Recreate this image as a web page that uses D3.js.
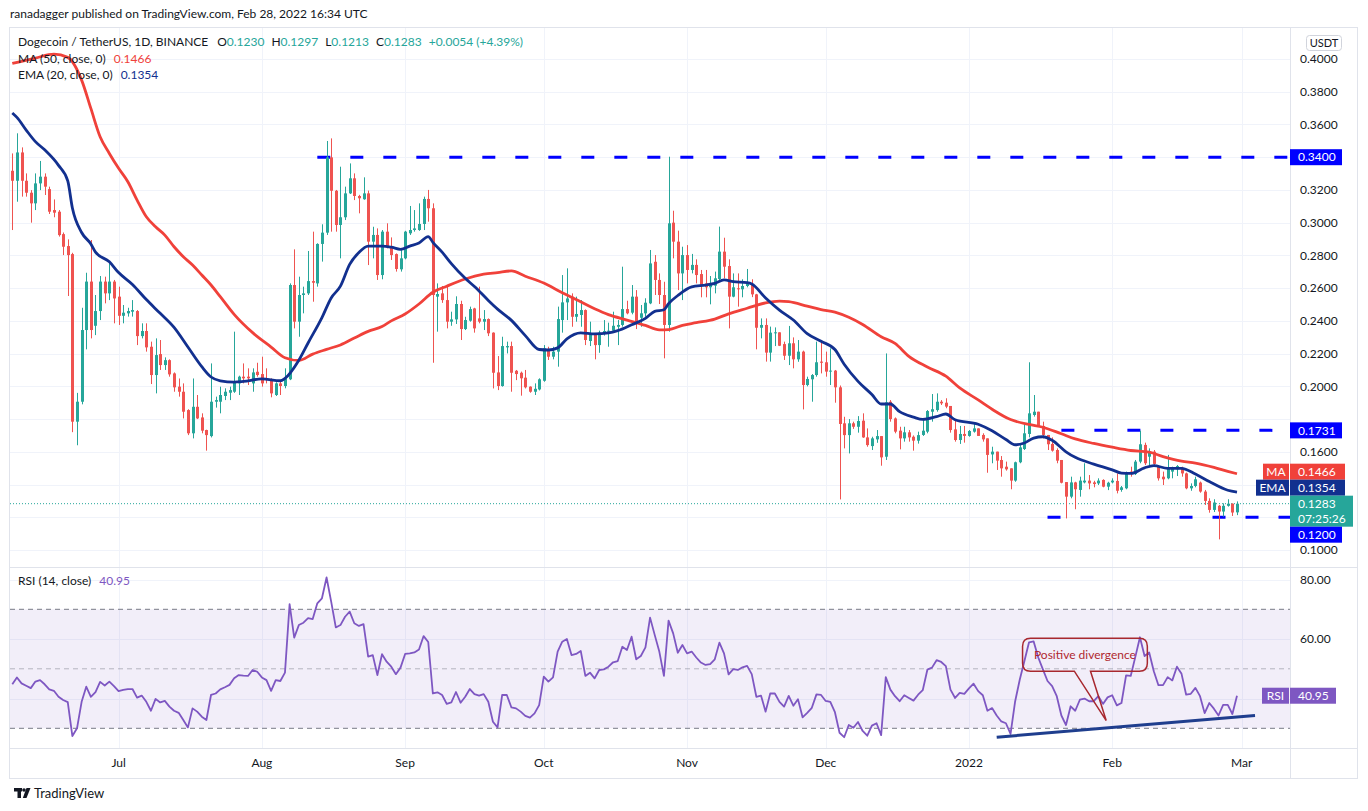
<!DOCTYPE html>
<html lang="en">
<head>
<meta charset="UTF-8" />
<title>DOGEUSDT 1D</title>
<style>
  body { margin: 0; background: #fff; font-family: Lato, "Noto Sans", sans-serif; }
  svg { display: block; }
  .tick-label { font-size: 12px; fill: #131722; }
  .tag-text { font-size: 12px; fill: #fff; }
  .legend { font-size: 12px; fill: #131722; }
</style>
</head>
<body>
<script src="https://cdn.jsdelivr.net/npm/d3@7/dist/d3.min.js"></script>
<script>
// daily candles, first one is 2021-06-08
const firstDay = "2021-06-08";

const open = [
  .3317,.3256,.3429,.3256,.3183,.3118,.3240,.3281,.3205,.3077,
  .3067,.2930,.2857,.2808,.1784,.1906,.2344,.2640,.2370,.2460,
  .2640,.2568,.2640,.2548,.2431,.2446,.2456,.2460,.2307,.2338,
  .2242,.2069,.2197,.2130,.2160,.2079,.1998,.1967,.1855,.1713,
  .1875,.1810,.1733,.1696,.1906,.1906,.1941,.1961,.1967,.2018,
  .2059,.2059,.2018,.2089,.2075,.2049,.2034,.1947,.2018,.2002,
  .2043,.2619,.2395,.2558,.2568,.2643,.2629,.2870,.2939,.3399,
  .3195,.2986,.3033,.3179,.3271,.3163,.3143,.3179,.2884,.2925,
  .2680,.2945,.2857,.2808,.2715,.2782,.2935,.2955,.2955,.2992,
  .3145,.3088,.2548,.2568,.2527,.2395,.2409,.2503,.2350,.2401,
  .2476,.2415,.2395,.2411,.2328,.2085,.2002,.2238,.2246,.2095,
  .2083,.2053,.1998,.1967,.1981,.2034,.2222,.2181,.2212,.2405,
  .2513,.2548,.2425,.2436,.2466,.2277,.2318,.2252,.2328,.2334,
  .2340,.2364,.2375,.2472,.2450,.2548,.2419,.2446,.2507,.2761,
  .2650,.2558,.2375,.3000,.2884,.2690,.2802,.2711,.2742,.2686,
  .2629,.2605,.2615,.2656,.2823,.2735,.2548,.2599,.2593,.2613,
  .2625,.2562,.2358,.2375,.2206,.2324,.2330,.2258,.2187,.2263,
  .2165,.2212,.2008,.2043,.2069,.2151,.2147,.2090,.2096,.1994,
  .1774,.1702,.1774,.1753,.1790,.1688,.1635,.1676,.1696,.1570,
  .1906,.1804,.1729,.1682,.1719,.1692,.1668,.1703,.1723,.1845,
  .1855,.1906,.1900,.1880,.1737,.1672,.1709,.1697,.1723,.1743,
  .1703,.1682,.1584,.1601,.1550,.1509,.1499,.1424,.1536,.1617,
  .1709,.1825,.1845,.1758,.1703,.1648,.1611,.1550,.1415,.1326,
  .1413,.1367,.1413,.1424,.1413,.1407,.1428,.1387,.1413,.1422,
  .1367,.1377,.1479,.1464,.1540,.1642,.1570,.1601,.1513,.1448,
  .1438,.1479,.1493,.1499,.1468,.1377,.1391,.1412,.1357,.1300,
  .1245,.1270,.1235,.1270,.1283,.1230
];
const high = [
  .3423,.3546,.3460,.3301,.3199,.3301,.3377,.3301,.3220,.3142,
  .3077,.2940,.2898,.2816,.1960,.2480,.2694,.2894,.2558,.2674,
  .2670,.2751,.2650,.2609,.2497,.2480,.2527,.2466,.2385,.2385,
  .2273,.2293,.2283,.2177,.2165,.2085,.2048,.2018,.1860,.2048,
  .1947,.1835,.1735,.2140,.1937,.1998,.1988,.1998,.2334,.2065,
  .2140,.2110,.2110,.2144,.2181,.2110,.2049,.2025,.2028,.2110,
  .2629,.2837,.2670,.2609,.2827,.2945,.2874,.2990,.3499,.3515,
  .3200,.3342,.3220,.3362,.3301,.3170,.3277,.3196,.2975,.2965,
  .2955,.2996,.2910,.2812,.2843,.2950,.3102,.3077,.3118,.3159,
  .3200,.3118,.2629,.2613,.2609,.2456,.2550,.2523,.2425,.2487,
  .2480,.2609,.2466,.2415,.2330,.2185,.2303,.2273,.2273,.2100,
  .2090,.2100,.2000,.2018,.2049,.2252,.2242,.2242,.2487,.2680,
  .2721,.2568,.2548,.2527,.2470,.2395,.2324,.2340,.2405,.2389,
  .2456,.2405,.2731,.2523,.2619,.2588,.2497,.2538,.2833,.2802,
  .2690,.2639,.3403,.3073,.2951,.2853,.2863,.2809,.2776,.2711,
  .2711,.2674,.2701,.2976,.2908,.2776,.2690,.2690,.2654,.2717,
  .2654,.2565,.2415,.2415,.2365,.2360,.2330,.2273,.2369,.2299,
  .2283,.2218,.2059,.2075,.2273,.2277,.2212,.2232,.2100,.2005,
  .1814,.1800,.1784,.1818,.1835,.1743,.1692,.1733,.1696,.2201,
  .1916,.1810,.1753,.1753,.1733,.1700,.1723,.1794,.1855,.1953,
  .1957,.1916,.1927,.1880,.1794,.1758,.1758,.1733,.1770,.1743,
  .1713,.1682,.1631,.1601,.1574,.1540,.1499,.1540,.1641,.1774,
  .2147,.1947,.1845,.1784,.1703,.1688,.1621,.1550,.1415,.1448,
  .1417,.1448,.1530,.1458,.1423,.1438,.1432,.1417,.1438,.1468,
  .1391,.1479,.1509,.1550,.1729,.1656,.1621,.1611,.1519,.1479,
  .1581,.1509,.1519,.1509,.1473,.1407,.1448,.1418,.1367,.1316,
  .1310,.1275,.1285,.1310,.1285,.1297
];
const low = [
  .2955,.3128,.3159,.3159,.3000,.3077,.3199,.3169,.3053,.3033,
  .2915,.2802,.2552,.1720,.1640,.1890,.2226,.2293,.2313,.2405,
  .2507,.2527,.2385,.2375,.2385,.2426,.2426,.2252,.2293,.2212,
  .2014,.1957,.2100,.2100,.2059,.1967,.1937,.1804,.1702,.1682,
  .1800,.1713,.1607,.1688,.1870,.1835,.1916,.1916,.1960,.1947,
  .2018,.2008,.1967,.2059,.1998,.2018,.1933,.1941,.1947,.1988,
  .2038,.2354,.2303,.2446,.2558,.2517,.2609,.2762,.2925,.2945,
  .2945,.2782,.3016,.3175,.3138,.3057,.3140,.2741,.2782,.2650,
  .2654,.2843,.2772,.2701,.2701,.2776,.2925,.2945,.2950,.2955,
  .3006,.2144,.2334,.2510,.2354,.2370,.2381,.2283,.2344,.2395,
  .2328,.2385,.2344,.2307,.1987,.1977,.1998,.2201,.1967,.2038,
  .1943,.1987,.1961,.1947,.1975,.2028,.2161,.2165,.2120,.2328,
  .2405,.2364,.2395,.2364,.2252,.2246,.2165,.2205,.2310,.2242,
  .2328,.2252,.2365,.2440,.2440,.2350,.2364,.2425,.2502,.2558,
  .2503,.2171,.2334,.2782,.2588,.2527,.2629,.2690,.2629,.2544,
  .2544,.2501,.2568,.2650,.2660,.2354,.2544,.2487,.2544,.2605,
  .2545,.2226,.2293,.2151,.2151,.2246,.2246,.2161,.2130,.2110,
  .2150,.1859,.2000,.1906,.2059,.2079,.2059,.2008,.1900,.1309,
  .1621,.1590,.1740,.1717,.1685,.1631,.1611,.1655,.1515,.1550,
  .1784,.1713,.1615,.1662,.1662,.1607,.1650,.1697,.1713,.1784,
  .1845,.1886,.1866,.1717,.1662,.1648,.1656,.1692,.1717,.1697,
  .1662,.1472,.1530,.1489,.1448,.1485,.1371,.1417,.1530,.1611,
  .1688,.1815,.1754,.1682,.1611,.1601,.1530,.1407,.1193,.1316,
  .1249,.1326,.1407,.1371,.1383,.1397,.1383,.1366,.1407,.1346,
  .1356,.1371,.1448,.1458,.1530,.1519,.1519,.1519,.1424,.1397,
  .1432,.1438,.1452,.1448,.1371,.1362,.1383,.1350,.1275,.1228,
  .1232,.1065,.1204,.1265,.1208,.1213
];
const close = [
  .3256,.3429,.3256,.3183,.3118,.3240,.3281,.3220,.3067,.3061,
  .2924,.2853,.2802,.1784,.1906,.2344,.2640,.2344,.2460,.2640,
  .2568,.2640,.2537,.2431,.2450,.2460,.2466,.2307,.2338,.2238,
  .2069,.2191,.2130,.2160,.2073,.1994,.1967,.1845,.1713,.1875,
  .1804,.1729,.1702,.1906,.1916,.1947,.1967,.1977,.2028,.2059,
  .2049,.2049,.2085,.2069,.2018,.2038,.1957,.2018,.2002,.2049,
  .2619,.2395,.2558,.2568,.2643,.2633,.2870,.2939,.3399,.3195,
  .2986,.3033,.3179,.3271,.3163,.3149,.3179,.2884,.2925,.2680,
  .2945,.2857,.2802,.2717,.2782,.2945,.2955,.2965,.2992,.3145,
  .3088,.2558,.2564,.2527,.2395,.2409,.2503,.2350,.2405,.2472,
  .2354,.2395,.2411,.2324,.2083,.2002,.2246,.2246,.2083,.2075,
  .2049,.1994,.1967,.1985,.2043,.2232,.2181,.2212,.2411,.2513,
  .2537,.2425,.2442,.2466,.2283,.2324,.2252,.2328,.2338,.2340,
  .2370,.2375,.2472,.2446,.2548,.2391,.2446,.2511,.2751,.2650,
  .2558,.2375,.2996,.2884,.2690,.2802,.2711,.2742,.2680,.2619,
  .2605,.2619,.2660,.2823,.2731,.2548,.2605,.2593,.2613,.2629,
  .2562,.2358,.2375,.2206,.2328,.2330,.2248,.2187,.2263,.2165,
  .2212,.2008,.2045,.2069,.2147,.2144,.2090,.2096,.1994,.1770,
  .1702,.1774,.1753,.1788,.1688,.1641,.1682,.1696,.1566,.1902,
  .1800,.1723,.1682,.1719,.1688,.1668,.1702,.1729,.1849,.1860,
  .1906,.1896,.1876,.1733,.1672,.1709,.1697,.1727,.1743,.1697,
  .1676,.1581,.1601,.1546,.1499,.1493,.1424,.1536,.1627,.1713,
  .1835,.1845,.1758,.1703,.1646,.1607,.1546,.1411,.1326,.1413,
  .1371,.1424,.1424,.1407,.1403,.1424,.1387,.1411,.1424,.1362,
  .1383,.1473,.1468,.1540,.1646,.1530,.1601,.1526,.1438,.1432,
  .1499,.1499,.1513,.1468,.1377,.1391,.1432,.1357,.1300,.1245,
  .1290,.1235,.1270,.1283,.1229,.1283
];

// MA(50) and EMA(20), as [day number, value]
const maDay = [0,5,9,12,15,17,19,21,23,25,27,29,31,33,35,37,39,41,43,45,48,52,56,59,62,65,68,71,74,77,80,82,85,88,91,94,98,102,105,108,111,115,119,122,126,129,133,137,140,142,145,148,152,155,159,163,166,168,172,175,178,181,184,188,191,194,198,202,205,209,212,216,220,223,227,230,234,238,242,246,249,253,256,260,263,265];
const maValue = [.3973,.4006,.4030,.4010,.3871,.3698,.3525,.3423,.3332,.3250,.3138,.3036,.2975,.2924,.2853,.2792,.2741,.2680,.2619,.2548,.2440,.2328,.2240,.2175,.2158,.2197,.2226,.2253,.2295,.2336,.2365,.2400,.2442,.2503,.2575,.2612,.2656,.2685,.2695,.2705,.2673,.2631,.2572,.2531,.2474,.2438,.2405,.2372,.2345,.2347,.2373,.2389,.2411,.2443,.2477,.2510,.2521,.2517,.2490,.2469,.2454,.2422,.2378,.2303,.2262,.2183,.2118,.2062,.1990,.1917,.1860,.1797,.1767,.1750,.1710,.1679,.1651,.1628,.1608,.1598,.1571,.1543,.1531,.1505,.1481,.1466];
const emaDay = [0,1,3,5,7,10,12,13,15,17,18,21,23,26,29,32,35,38,41,43,45,48,50,54,58,59,62,64,67,69,71,73,75,77,80,82,84,86,88,90,91,93,95,98,100,103,105,108,111,114,116,118,120,123,126,129,131,134,137,139,141,142,144,147,150,152,154,156,159,160,163,166,169,172,175,178,180,183,186,188,190,192,195,197,200,202,204,209,212,215,217,219,221,223,225,228,230,234,238,240,242,245,247,250,253,256,259,263,265];
const emaValue = [.3670,.3643,.3566,.3495,.3445,.3350,.3255,.3090,.2940,.2870,.2820,.2761,.2695,.2622,.2530,.2446,.2360,.2240,.2120,.2057,.2034,.2026,.2030,.2045,.2034,.2049,.2160,.2265,.2420,.2540,.2612,.2745,.2818,.2857,.2857,.2850,.2837,.2857,.2876,.2915,.2880,.2820,.2750,.2660,.2610,.2525,.2472,.2403,.2310,.2225,.2222,.2235,.2290,.2327,.2320,.2326,.2340,.2376,.2415,.2458,.2468,.2505,.2555,.2608,.2619,.2629,.2650,.2640,.2633,.2625,.2540,.2466,.2405,.2322,.2275,.2225,.2135,.2030,.1950,.1892,.1892,.1845,.1812,.1798,.1815,.1831,.1796,.1768,.1728,.1675,.1643,.1654,.1684,.1692,.1670,.1600,.1566,.1525,.1490,.1470,.1468,.1502,.1515,.1499,.1499,.1464,.1418,.1365,.1354];

// RSI(14), one value per candle
const rsi = [
  44.8,47.1,45.1,44.3,43.5,45.7,46.2,44.8,43.1,42.6,
  40.6,39.5,38.8,27.4,30.0,38.9,44.0,40.6,42.2,45.6,
  44.4,45.7,44.2,42.5,42.9,43.2,43.2,40.3,41.0,38.9,
  35.9,39.9,38.7,39.2,37.3,35.9,35.2,32.8,30.3,36.7,
  35.6,33.9,32.8,41.2,41.7,43.1,43.8,44.6,46.8,47.9,
  47.7,47.6,49.6,49.0,47.1,46.2,42.6,46.2,45.9,48.7,
  71.7,60.5,64.7,65.5,67.0,66.7,72.0,73.7,80.7,72.6,
  63.9,64.7,67.5,69.2,65.3,64.4,65.0,54.1,54.6,47.9,
  54.9,52.4,50.7,48.2,50.4,55.0,55.2,55.5,56.5,61.0,
  59.0,41.7,42.1,41.2,38.2,38.7,42.2,38.6,40.6,43.2,
  41.5,41.0,41.5,38.9,32.2,30.3,41.2,41.2,37.0,36.7,
  35.6,34.2,33.6,35.0,37.8,47.4,45.7,47.1,55.8,59.1,
  60.0,54.6,55.0,56.0,47.6,48.7,46.8,49.6,49.8,50.7,
  52.2,52.6,57.4,56.3,60.8,53.2,54.3,57.2,67.2,61.4,
  55.8,47.6,66.2,61.9,55.4,58.0,55.2,55.8,53.8,52.1,
  51.3,51.6,53.2,58.8,55.2,48.1,49.9,49.6,50.5,51.0,
  48.2,40.6,41.0,35.6,41.7,41.7,38.9,37.3,40.9,37.6,
  39.8,33.7,35.2,36.9,41.4,41.2,39.2,38.9,35.4,28.5,
  27.0,31.1,30.2,32.1,29.1,27.5,30.9,31.7,27.7,47.2,
  43.0,40.8,39.1,41.1,40.2,39.3,41.3,42.8,49.7,50.4,
  52.9,52.3,50.9,43.0,40.2,41.9,41.6,43.4,45.0,42.5,
  41.1,35.9,36.8,34.3,32.3,31.7,28.1,39.1,46.4,52.6,
  58.9,59.2,53.8,49.8,45.9,44.2,40.8,34.3,31.1,37.4,
  35.9,39.6,40.0,39.1,39.1,40.8,38.2,40.4,41.1,37.7,
  38.5,47.8,47.6,54.0,60.6,54.3,55.5,49.2,44.5,44.5,
  47.2,46.1,50.7,48.3,41.3,41.6,43.6,40.8,35.1,38.5,
  36.6,34.3,37.9,37.9,34.8,40.95
];

const priceTicks = [0.10,0.12,0.14,0.16,0.18,0.20,0.22,0.24,0.26,0.28,0.30,0.32,0.34,0.36,0.38,0.40];
const rsiTicks = [80, 60];
const monthTicks = ["2021-07-01","2021-08-01","2021-09-01","2021-10-01","2021-11-01","2021-12-01","2022-01-01","2022-02-01","2022-03-01"];
const monthLabels = ["Jul","Aug","Sep","Oct","Nov","Dec","2022","Feb","Mar"];

// drawn levels: price and the day they start
const levelPrice = [0.34, 0.1731, 0.12];
const levelStart = ["2021-08-13", "2022-01-21", "2022-01-18"];

const up = "#26a69a", down = "#ef5350";
const maColor = "#f0413a", emaColor = "#12308f", levelColor = "#0000ff";
const rsiColor = "#7e57c2", gridColor = "#f0f3fa", borderColor = "#e0e3eb";

const W = 1368, H = 811;
const left = 10, right = 1290, priceTop = 27, priceBottom = 567, rsiBottom = 748, axisBottom = 778;

const parse = d3.utcParse("%Y-%m-%d");
const day0 = parse(firstDay);
const days = close.map((c, i) => d3.utcDay.offset(day0, i));
const atDay = n => new Date(day0.getTime() + n * 864e5);

const x = d3.scaleUtc().domain([days[0], days[days.length - 1]]).range([12.3, 1237]);
const y = d3.scaleLinear().domain([0.1, 0.4]).range([550, 59]);
const yr = d3.scaleLinear().domain([30, 70]).range([728.3, 609.3]);
const fmt = d3.format(".4f");
const last = close.length - 1;

const svg = d3.select("body").append("svg").attr("width", W).attr("height", H);
const defs = svg.append("defs");
defs.append("clipPath").attr("id", "clipPrice").append("rect")
  .attr("x", left).attr("y", priceTop).attr("width", right - left).attr("height", priceBottom - priceTop);
defs.append("clipPath").attr("id", "clipRsi").append("rect")
  .attr("x", left).attr("y", priceBottom).attr("width", right - left).attr("height", rsiBottom - priceBottom);

// header
svg.append("text").attr("x", 10).attr("y", 18).attr("class", "legend").attr("fill", "#4a4a4a")
  .text("ranadagger published on TradingView.com, Feb 28, 2022 16:34 UTC");

// grid
const grid = svg.append("g").attr("stroke", gridColor).attr("stroke-width", 1);
grid.selectAll(".gv").data(monthTicks).join("line")
  .attr("x1", d => Math.round(x(parse(d))) + 0.5).attr("x2", d => Math.round(x(parse(d))) + 0.5)
  .attr("y1", priceTop).attr("y2", rsiBottom);
grid.selectAll(".gh").data(priceTicks).join("line")
  .attr("x1", left).attr("x2", right)
  .attr("y1", d => Math.round(y(d)) + 0.5).attr("y2", d => Math.round(y(d)) + 0.5);
grid.selectAll(".gr").data([80, 60, 40]).join("line")
  .attr("x1", left).attr("x2", right)
  .attr("y1", d => Math.round(yr(d)) + 0.5).attr("y2", d => Math.round(yr(d)) + 0.5);

// frame
const frame = svg.append("g").attr("stroke", borderColor).attr("fill", "none");
frame.append("rect").attr("x", 9.5).attr("y", priceTop + 0.5).attr("width", 1348).attr("height", axisBottom - priceTop);
frame.append("line").attr("x1", right + 0.5).attr("x2", right + 0.5).attr("y1", priceTop).attr("y2", axisBottom);
frame.append("line").attr("x1", 9.5).attr("x2", 1357.5).attr("y1", priceBottom + 0.5).attr("y2", priceBottom + 0.5);
frame.append("line").attr("x1", 9.5).attr("x2", 1357.5).attr("y1", rsiBottom + 0.5).attr("y2", rsiBottom + 0.5);

// price pane
const pane = svg.append("g").attr("clip-path", "url(#clipPrice)");

pane.selectAll(".level").data(levelPrice).join("line")
  .attr("x1", (d, i) => x(parse(levelStart[i]))).attr("x2", right)
  .attr("y1", d => y(d)).attr("y2", d => y(d))
  .attr("stroke", levelColor).attr("stroke-width", 3).attr("stroke-dasharray", "13,20");

pane.append("line").attr("x1", left).attr("x2", right)
  .attr("y1", y(close[last])).attr("y2", y(close[last]))
  .attr("stroke", up).attr("stroke-width", 1).attr("stroke-dasharray", "1,2");

const candle = pane.append("g").selectAll("g").data(days).join("g")
  .attr("fill", (d, i) => close[i] >= open[i] ? up : down)
  .attr("stroke", (d, i) => close[i] >= open[i] ? up : down);
candle.append("line")
  .attr("x1", d => Math.round(x(d)) + 0.5).attr("x2", d => Math.round(x(d)) + 0.5)
  .attr("y1", (d, i) => y(Math.max(high[i], open[i], close[i])))
  .attr("y2", (d, i) => y(Math.min(low[i], open[i], close[i])))
  .attr("stroke-width", 1);
candle.append("rect")
  .attr("stroke", "none")
  .attr("x", d => Math.round(x(d)) - 1).attr("width", 3)
  .attr("y", (d, i) => y(Math.max(open[i], close[i])))
  .attr("height", (d, i) => Math.max(1, Math.abs(y(open[i]) - y(close[i]))));

const avgLine = d3.line().x(d => x(atDay(d[0]))).y(d => y(d[1])).curve(d3.curveMonotoneX);
pane.append("path").attr("d", avgLine(maDay.map((d, i) => [d, maValue[i]])))
  .attr("fill", "none").attr("stroke", maColor).attr("stroke-width", 2.8);
pane.append("path").attr("d", avgLine(emaDay.map((d, i) => [d, emaValue[i]])))
  .attr("fill", "none").attr("stroke", emaColor).attr("stroke-width", 2.8);

// legend
const lg = svg.append("g").attr("class", "legend");
const l1 = lg.append("text").attr("x", 18).attr("y", 46);
l1.append("tspan").text("Dogecoin / TetherUS, 1D, BINANCE");
[["O", open], ["H", high], ["L", low], ["C", close]].forEach(([k, arr], j) => {
  l1.append("tspan").attr("dx", j ? 7 : 9).text(k);
  l1.append("tspan").attr("fill", up).text(fmt(arr[last]));
});
const chg = close[last] - close[last - 1];
l1.append("tspan").attr("dx", 7).attr("fill", up)
  .text(`+${fmt(chg)} (+${d3.format(".2f")(chg / close[last - 1] * 100)}%)`);
const l2 = lg.append("text").attr("x", 18).attr("y", 63);
l2.append("tspan").text("MA (50, close, 0)");
l2.append("tspan").attr("dx", 8).attr("fill", maColor).text(fmt(maValue[maValue.length - 1]));
const l3 = lg.append("text").attr("x", 18).attr("y", 79);
l3.append("tspan").text("EMA (20, close, 0)");
l3.append("tspan").attr("dx", 8).attr("fill", emaColor).text(fmt(emaValue[emaValue.length - 1]));

// price-axis tags: the last-price tag stays put, the others move away from it
const tags = [
  { v: levelPrice[0], w: 52, h: 16, color: levelColor },
  { v: levelPrice[1], w: 52, h: 16, color: levelColor },
  { v: maValue[maValue.length - 1], w: 55, h: 16, color: maColor, name: "MA", nw: 27 },
  { v: emaValue[emaValue.length - 1], w: 55, h: 16, color: emaColor, name: "EMA", nw: 34 },
  { v: close[last], w: 63, h: 31, color: up, sub: "07:25:26" },
  { v: levelPrice[2], w: 52, h: 16, color: levelColor }
];
const anchor = tags.find(t => t.sub);
anchor.top = y(anchor.v) - 8;
let edge = anchor.top;
tags.filter(t => y(t.v) < y(anchor.v)).sort((a, b) => y(b.v) - y(a.v)).forEach(t => {
  t.top = Math.min(y(t.v) - 8, edge - t.h);
  edge = t.top;
});
edge = anchor.top + anchor.h;
tags.filter(t => y(t.v) > y(anchor.v)).sort((a, b) => y(a.v) - y(b.v)).forEach(t => {
  t.top = Math.max(y(t.v) - 8, edge);
  edge = t.top + t.h;
});

// price axis labels hidden where a tag covers them
const freeTicks = priceTicks.filter(p => !tags.some(t => y(p) + 6 > t.top && y(p) - 6 < t.top + t.h));
svg.append("g").selectAll("text").data(freeTicks).join("text")
  .attr("class", "tick-label").attr("x", 1300).attr("y", d => y(d)).attr("dy", "0.35em")
  .text(d => fmt(d));
svg.append("rect").attr("x", 1306.5).attr("y", 35.5).attr("width", 35).attr("height", 15).attr("rx", 3)
  .attr("fill", "#fff").attr("stroke", "#d1d4dc");
svg.append("text").attr("x", 1324).attr("y", 43).attr("dy", "0.35em").attr("text-anchor", "middle")
  .attr("class", "tick-label").style("font-size", "11px").text("USDT");

const tg = svg.append("g").selectAll("g").data(tags).join("g");
tg.append("rect").attr("x", right).attr("y", d => d.top).attr("width", d => d.w).attr("height", d => d.h)
  .attr("fill", d => d.color);
tg.append("text").attr("class", "tag-text").attr("x", 1298).attr("y", d => d.top + 8).attr("dy", "0.35em")
  .text(d => fmt(d.v));
tg.filter(d => d.sub).append("text").attr("class", "tag-text").attr("x", 1298)
  .attr("y", d => d.top + 23).attr("dy", "0.35em").text(d => d.sub);
const named = tg.filter(d => d.name);
named.append("rect").attr("x", d => right - d.nw).attr("y", d => d.top).attr("width", d => d.nw - 1).attr("height", 16)
  .attr("fill", d => d.color);
named.append("text").attr("class", "tag-text").attr("x", d => right - d.nw / 2 - 0.5).attr("y", d => d.top + 8)
  .attr("dy", "0.35em").attr("text-anchor", "middle").text(d => d.name);

// RSI pane
const rp = svg.append("g").attr("clip-path", "url(#clipRsi)");
rp.append("rect").attr("x", left).attr("width", right - left)
  .attr("y", yr(70)).attr("height", yr(30) - yr(70)).attr("fill", "rgba(126,87,194,0.1)");
rp.selectAll(".band").data([70, 50, 30]).join("line")
  .attr("x1", left).attr("x2", right).attr("y1", d => yr(d)).attr("y2", d => yr(d))
  .attr("stroke", "#787b86").attr("stroke-opacity", d => d === 50 ? 0.5 : 1)
  .attr("stroke-dasharray", "5,4");
rp.append("path")
  .attr("d", d3.line().x((d, i) => x(days[i])).y(d => yr(d))(rsi))
  .attr("fill", "none").attr("stroke", rsiColor).attr("stroke-width", 1.8).attr("stroke-linejoin", "round");

// rising support under the RSI lows
const trend = [[213, 27.0], [268.9, 34.3]];
rp.append("line")
  .attr("x1", x(atDay(trend[0][0]))).attr("y1", yr(trend[0][1]))
  .attr("x2", x(atDay(trend[1][0]))).attr("y2", yr(trend[1][1]))
  .attr("stroke", "#1f3e8e").attr("stroke-width", 3);

// callout
const call = { from: 218.6, to: 245.6, top: 60.3, bottom: 49.2, base0: 229.8, base1: 233.3, tip: [236.7, 32.6] };
const cx0 = x(atDay(call.from)), cx1 = x(atDay(call.to));
const cy0 = yr(call.top), cy1 = yr(call.bottom), r = 8;
const cp = d3.path();
cp.moveTo(cx0 + r, cy0);
cp.lineTo(cx1 - r, cy0);
cp.quadraticCurveTo(cx1, cy0, cx1, cy0 + r);
cp.lineTo(cx1, cy1 - r);
cp.quadraticCurveTo(cx1, cy1, cx1 - r, cy1);
cp.lineTo(x(atDay(call.base1)), cy1);
cp.lineTo(x(atDay(call.tip[0])), yr(call.tip[1]));
cp.lineTo(x(atDay(call.base0)), cy1);
cp.lineTo(cx0 + r, cy1);
cp.quadraticCurveTo(cx0, cy1, cx0, cy1 - r);
cp.lineTo(cx0, cy0 + r);
cp.quadraticCurveTo(cx0, cy0, cx0 + r, cy0);
cp.closePath();
rp.append("path").attr("d", cp.toString()).attr("fill", "none").attr("stroke", "#a8282f").attr("stroke-width", 1.5);
rp.append("text").attr("x", (cx0 + cx1) / 2).attr("y", (cy0 + cy1) / 2).attr("dy", "0.35em")
  .attr("text-anchor", "middle").attr("fill", "#b0282f").style("font-size", "12px").text("Positive divergence");

// RSI legend and axis
const l4 = svg.append("text").attr("class", "legend").attr("x", 18).attr("y", 585);
l4.append("tspan").text("RSI (14, close)");
l4.append("tspan").attr("dx", 8).attr("fill", rsiColor).text(d3.format(".2f")(rsi[last]));
svg.append("g").selectAll("text").data(rsiTicks).join("text")
  .attr("class", "tick-label").attr("x", 1300).attr("y", d => yr(d)).attr("dy", "0.35em")
  .text(d => d3.format(".2f")(d));
const rsiY = yr(rsi[last]);
svg.append("rect").attr("x", 1262).attr("y", rsiY - 8).attr("width", 27).attr("height", 16).attr("fill", rsiColor);
svg.append("rect").attr("x", right).attr("y", rsiY - 8).attr("width", 46).attr("height", 16).attr("fill", rsiColor);
svg.append("text").attr("class", "tag-text").attr("x", 1275.5).attr("y", rsiY).attr("dy", "0.35em")
  .attr("text-anchor", "middle").text("RSI");
svg.append("text").attr("class", "tag-text").attr("x", 1298).attr("y", rsiY).attr("dy", "0.35em")
  .text(d3.format(".2f")(rsi[last]));

// time axis
svg.append("g").selectAll("text").data(monthTicks).join("text")
  .attr("class", "tick-label").attr("text-anchor", "middle")
  .attr("x", d => x(parse(d))).attr("y", 763).attr("dy", "0.35em")
  .text((d, i) => monthLabels[i]);

// footer logo
const logo = svg.append("g").attr("fill", "#131722");
logo.append("rect").attr("x", 14).attr("y", 788).attr("width", 8).attr("height", 3.5);
logo.append("rect").attr("x", 17.5).attr("y", 788).attr("width", 3.5).attr("height", 10);
logo.append("circle").attr("cx", 24).attr("cy", 790).attr("r", 1.8);
logo.append("path").attr("d", "M26.5 788 L30.5 788 L26.5 798 L22.8 798 Z");
svg.append("text").attr("x", 34).attr("y", 798).attr("fill", "#131722").style("font-size", "13px").text("TradingView");
</script>
</body>
</html>
